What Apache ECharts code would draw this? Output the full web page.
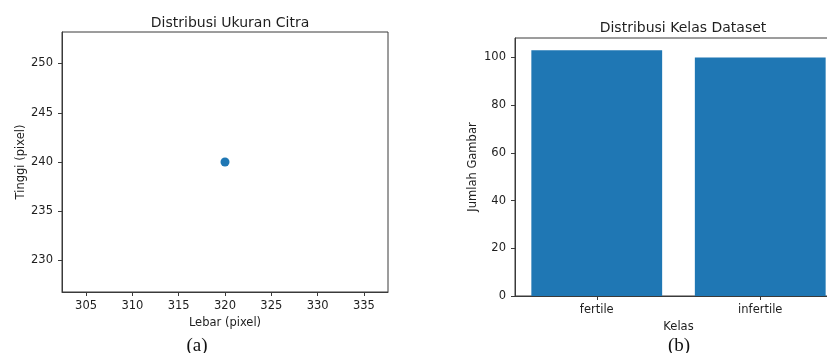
<!DOCTYPE html>
<html><head><meta charset="utf-8">
<script src="https://cdn.jsdelivr.net/npm/echarts@6/dist/echarts.min.js"></script>
<style>html,body{margin:0;padding:0;background:#fff}#c{width:827px;height:353px}</style>
</head><body><div id="c"></div>
<script>
const widthPx = [320];
const heightPx = [240];
const xTicksA = [305, 310, 315, 320, 325, 330, 335];
const yTicksA = [230, 235, 240, 245, 250];
const classes = ['fertile', 'infertile'];
const counts = [103, 100];
const yTicksB = [0, 20, 40, 60, 80, 100];

const FONT = 'DejaVu Sans';
const TXT = '#1e1e1e';
const LINE = '#3a3a3a';
const FS = 11.5;
const small = {fontFamily: FONT, fontSize: FS, color: TXT};

const chart = echarts.init(document.getElementById('c'), null, {renderer: 'canvas'});
chart.setOption({
  animation: false,
  backgroundColor: '#fff',
  title: [
    {text: 'Distribusi Ukuran Citra', left: 225, top: 11, textAlign: 'center',
     textStyle: {fontFamily: FONT, fontSize: 14, fontWeight: 'normal', color: TXT}},
    {text: 'Distribusi Kelas Dataset', left: 678, top: 16, textAlign: 'center',
     textStyle: {fontFamily: FONT, fontSize: 14, fontWeight: 'normal', color: TXT}},
    {text: '(a)', left: 192, top: 332, textAlign: 'center',
     textStyle: {fontFamily: 'Liberation Serif', fontSize: 19, fontWeight: 'normal', color: '#111'}},
    {text: '(b)', left: 674, top: 332, textAlign: 'center',
     textStyle: {fontFamily: 'Liberation Serif', fontSize: 19, fontWeight: 'normal', color: '#111'}}
  ],
  grid: [
    {left: 62, top: 32, width: 326, height: 260, outerBoundsMode: 'none', containLabel: false,
     show: true, borderColor: LINE, borderWidth: 1, backgroundColor: 'transparent'},
    {left: 515, top: 38, width: 327, height: 258, outerBoundsMode: 'none', containLabel: false,
     show: true, borderColor: LINE, borderWidth: 1, backgroundColor: 'transparent'}
  ],
  xAxis: [
    {gridIndex: 0, type: 'value', min: 302.4, max: 337.6,
     name: 'Lebar (pixel)', nameLocation: 'middle', nameGap: 25,
     nameTextStyle: {fontFamily: FONT, fontSize: FS, color: TXT},
     axisLine: {show: true, lineStyle: {color: LINE}},
     axisTick: {show: true, length: 4, lineStyle: {color: LINE}, customValues: xTicksA},
     axisLabel: Object.assign({margin: 8, customValues: xTicksA}, small),
     splitLine: {show: false}},
    {gridIndex: 1, type: 'category', data: classes,
     name: 'Kelas', nameLocation: 'middle', nameGap: 23,
     nameTextStyle: {fontFamily: FONT, fontSize: FS, color: TXT},
     axisLine: {show: true, lineStyle: {color: LINE}},
     axisTick: {show: true, length: 4, alignWithLabel: true, lineStyle: {color: LINE}},
     axisLabel: Object.assign({margin: 8}, small),
     splitLine: {show: false}}
  ],
  yAxis: [
    {gridIndex: 0, type: 'value', min: 226.8, max: 253.2,
     name: 'Tinggi (pixel)', nameLocation: 'middle', nameGap: 34,
     nameTextStyle: {fontFamily: FONT, fontSize: FS, color: TXT},
     axisLine: {show: true, lineStyle: {color: LINE}},
     axisTick: {show: true, length: 4, lineStyle: {color: LINE}, customValues: yTicksA},
     axisLabel: Object.assign({margin: 9, customValues: yTicksA}, small),
     splitLine: {show: false}},
    {gridIndex: 1, type: 'value', min: 0, max: 108.15,
     name: 'Jumlah Gambar', nameLocation: 'middle', nameGap: 36,
     nameTextStyle: {fontFamily: FONT, fontSize: FS, color: TXT},
     axisLine: {show: true, lineStyle: {color: LINE}},
     axisTick: {show: true, length: 4, lineStyle: {color: LINE}, customValues: yTicksB},
     axisLabel: Object.assign({margin: 9, customValues: yTicksB}, small),
     splitLine: {show: false}}
  ],
  series: [
    {type: 'scatter', xAxisIndex: 0, yAxisIndex: 0, symbolSize: 9,
     itemStyle: {color: '#1f77b4', opacity: 1},
     data: widthPx.map((w, i) => [w, heightPx[i]])},
    {type: 'bar', xAxisIndex: 1, yAxisIndex: 1, barWidth: '80%',
     itemStyle: {color: '#1f77b4'},
     data: counts}
  ]
});
</script>
</body></html>
